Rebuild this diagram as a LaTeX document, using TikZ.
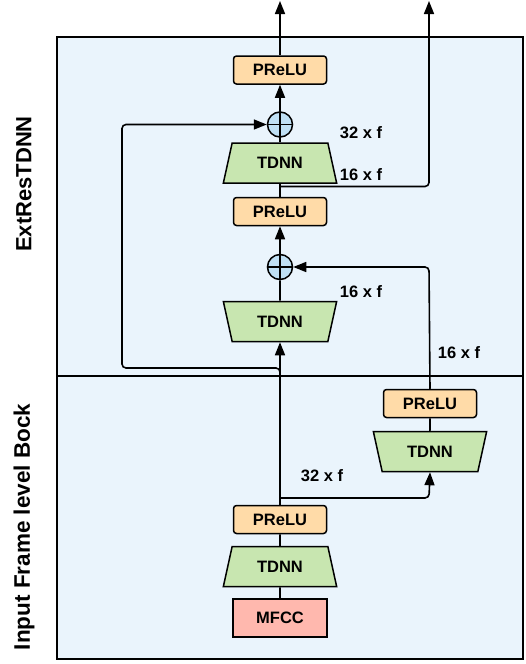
\documentclass[tikz,border=0pt]{standalone}
\usepackage{fontspec}
\setmainfont{Liberation Sans}
\usetikzlibrary{shapes.geometric,arrows.meta}

\definecolor{bgblue}{HTML}{EAF4FC}
\definecolor{reluorange}{HTML}{FFDBA8}
\definecolor{tdnngreen}{HTML}{C8E6B0}
\definecolor{mfccpink}{HTML}{FFB8AE}
\definecolor{sumblue}{HTML}{BFE0F5}

\tikzset{
  relubox/.style={draw, line width=1.5pt, fill=reluorange, rounded corners=3pt,
    minimum width=93pt, minimum height=28pt, font=\bfseries\fontsize{16.5}{16.5}\selectfont},
  tdnnbox/.style={draw, line width=1.5pt, fill=tdnngreen, trapezium, trapezium angle=75,
    trapezium stretches=true, minimum width=114pt, minimum height=40pt,
    font=\bfseries\fontsize{16.5}{16.5}\selectfont},
  tdnndown/.style={tdnnbox, shape border rotate=180},
  sumnode/.style={draw, line width=1.5pt, fill=sumblue, circle, minimum size=25pt, inner sep=0pt},
  dimlabel/.style={font=\bfseries\fontsize{16.5}{16.5}\selectfont},
  flow/.style={line width=1.6pt, rounded corners=4pt},
  flowarrow/.style={flow, -{Triangle[length=13pt,width=10pt]}}
}

\begin{document}
\begin{tikzpicture}[x=1pt,y=-1pt]
  \useasboundingbox (0,0) rectangle (526,664);

  % Draw the two blocks
  \draw[line width=1.5pt, fill=bgblue] (57,37) rectangle (523,376);
  \draw[line width=1.5pt, fill=bgblue] (57,376) rectangle (523,659);
  \node[rotate=90, font=\bfseries\fontsize{22}{22}\selectfont] (blocktop) at (24,184) {ExtResTDNN};
  \node[rotate=90, font=\bfseries\fontsize{22.5}{22.5}\selectfont] (blockbot) at (24,527) {Input Frame level Bock};

  % Input frame level block
  \node[draw, line width=1.5pt, fill=mfccpink, minimum width=94pt, minimum height=38pt,
    font=\bfseries\fontsize{16.5}{16.5}\selectfont] (mfcc) at (280,618) {MFCC};
  \node[tdnnbox] (tdnna) at (280,566.5) {TDNN};
  \node[relubox] (relua) at (280,519.5) {PReLU};
  \node[tdnndown] (tdnnb) at (430,451.5) {TDNN};
  \node[relubox] (relub) at (430,403.5) {PReLU};

  % ExtResTDNN block
  \node[tdnndown] (tdnnc) at (280,321.5) {TDNN};
  \node[sumnode] (sumb) at (280,267) {};
  \node[relubox] (reluc) at (280,211.5) {PReLU};
  \node[tdnnbox] (tdnnd) at (280,163) {TDNN};
  \node[sumnode] (suma) at (280,124.5) {};
  \node[relubox] (relud) at (280,70) {PReLU};

  % Plus signs in the sums
  \foreach \s in {suma, sumb} {
    \draw[line width=1.3pt] (\s.north) -- (\s.south);
    \draw[line width=1.3pt] (\s.west) -- (\s.east);
  }

  % Free ends
  \coordinate (outmain) at (280,1);
  \coordinate (outside) at (429,1);

  % Connectors
  \draw[flow] (mfcc) -- (tdnna);
  \draw[flow] (tdnna) -- (relua);
  \draw[flowarrow] (relua) -- (tdnnc);
  \draw[flowarrow] (280,498) -- (429,498) -- (tdnnb.south);
  \draw[flow] (tdnnb) -- (relub);
  \draw[flowarrow] (relub.north) -- (429,267) -- (sumb.east);
  \draw[flowarrow] (280,380) -- (280,368) -- (122,368) -- (122,124.5) -- (suma.west);
  \draw[flow] (tdnnc) -- (sumb);
  \draw[flowarrow] (sumb) -- (reluc);
  \draw[flow] (reluc) -- (tdnnd);
  \draw[flowarrow] (280,186.5) -- (429,186.5) -- (outside);
  \draw[flow] (tdnnd) -- (suma);
  \draw[flowarrow] (suma) -- (relud);
  \draw[flowarrow] (relud) -- (outmain);

  % Feature sizes
  \node[dimlabel] (dima) at (361,133) {32 x f};
  \node[dimlabel] (dimb) at (361,175) {16 x f};
  \node[dimlabel] (dimc) at (361,292) {16 x f};
  \node[dimlabel] (dimd) at (459,353) {16 x f};
  \node[dimlabel] (dime) at (322,476) {32 x f};
\end{tikzpicture}
\end{document}
